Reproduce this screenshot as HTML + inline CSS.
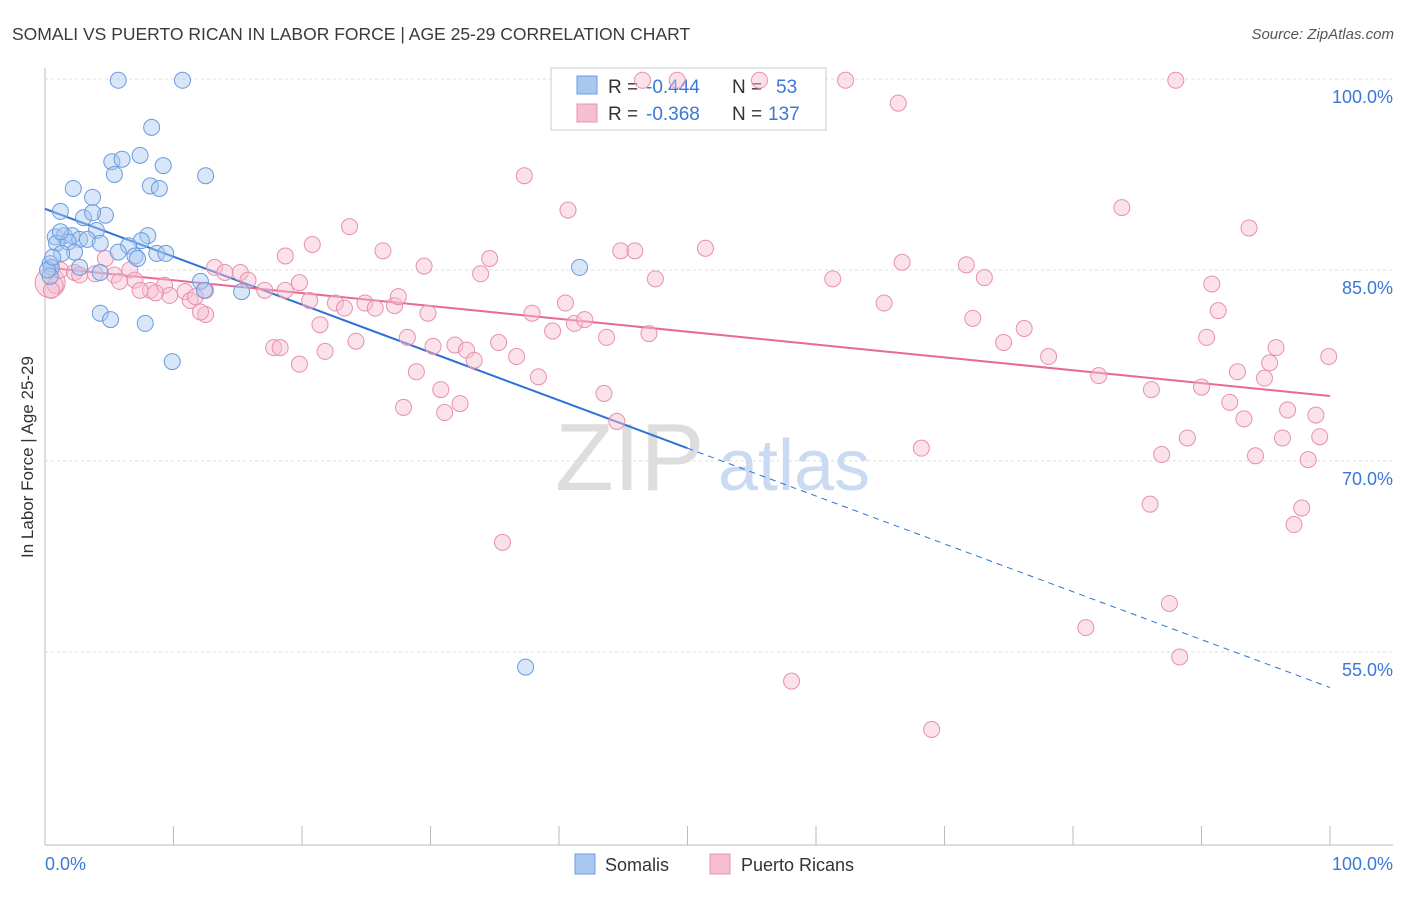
<!DOCTYPE html>
<html><head><meta charset="utf-8"><style>
body{margin:0;background:#fff;font-family:"Liberation Sans",sans-serif;}
svg text{font-family:"Liberation Sans",sans-serif;}
</style></head><body>
<svg id="chart" width="1406" height="892" xmlns="http://www.w3.org/2000/svg">
<text x="12" y="40" font-size="17.5" fill="#3a3a3a">SOMALI VS PUERTO RICAN IN LABOR FORCE | AGE 25-29 CORRELATION CHART</text>
<text x="1394" y="39" font-size="15" fill="#555" text-anchor="end" font-style="italic">Source: ZipAtlas.com</text>
<text x="33" y="457" font-size="17" fill="#333" text-anchor="middle" transform="rotate(-90 33 457)">In Labor Force | Age 25-29</text>
<g id="grid"></g>
<text x="555" y="490" font-size="96" fill="#ddd" font-family="Liberation Serif">ZIP</text>
<text x="718" y="490" font-size="72" fill="#c9daf2">atlas</text>
<g>
<rect x="551" y="68" width="275" height="62" fill="#fff" stroke="#ccc"/>
<rect x="577" y="76" width="20" height="18" fill="#a8c8f0" stroke="#6a9be0"/>
<rect x="577" y="104" width="20" height="18" fill="#f6bfd0" stroke="#e890ac"/>
<text y="93" font-size="19" fill="#333"><tspan x="608">R =</tspan><tspan x="646" fill="#3a78d8">-0.444</tspan><tspan x="732">N =</tspan><tspan x="776" fill="#3a78d8">53</tspan></text>
<text y="120" font-size="19" fill="#333"><tspan x="608">R =</tspan><tspan x="646" fill="#3a78d8">-0.368</tspan><tspan x="732">N =</tspan><tspan x="768" fill="#3a78d8">137</tspan></text>
</g>
<g id="lines"></g>
<g id="pts"></g>
<text x="45" y="870" font-size="18" fill="#3a78d8">0.0%</text>
<text x="1393" y="870" font-size="18" fill="#3a78d8" text-anchor="end">100.0%</text>
<rect x="575" y="854" width="20" height="20" fill="#a8c8f0" stroke="#6a9be0"/>
<text x="605" y="871" font-size="18" fill="#333">Somalis</text>
<rect x="710" y="854" width="20" height="20" fill="#f6bfd0" stroke="#e890ac"/>
<text x="741" y="871" font-size="18" fill="#333">Puerto Ricans</text>
</svg>
<script>
const yTicks=[100,85,70,55];
const yTickLabels=["100.0%","85.0%","70.0%","55.0%"];
const xTicks=[0,10,20,30,40,50,60,70,80,90,100];
const somaliX=[5.7,10.7,8.3,5.2,6.0,7.4,9.2,5.4,12.5,8.2,8.9,2.2,3.7,1.2,3.0,4.7,3.7,4.0,0.8,1.5,2.1,2.7,3.3,4.3,0.9,1.8,8.0,7.5,6.5,5.7,7.0,7.2,8.7,9.4,2.3,1.3,0.4,0.5,2.7,4.3,0.4,12.1,12.4,15.3,4.3,5.1,7.8,9.9,41.6,37.4,0.2,1.2,0.6];
const somaliY=[99.9,99.9,96.2,93.5,93.7,94.0,93.2,92.5,92.4,91.6,91.4,91.4,90.7,89.6,89.1,89.3,89.5,88.1,87.6,87.7,87.7,87.4,87.4,87.1,87.1,87.2,87.7,87.3,86.9,86.4,86.1,85.9,86.3,86.3,86.4,86.3,85.5,85.2,85.2,84.8,84.5,84.1,83.4,83.3,81.6,81.1,80.8,77.8,85.2,53.8,85.0,88.0,86.0];
const prX=[46.5,49.2,55.6,62.3,88.0,66.4,37.3,40.7,83.8,23.7,93.7,20.8,51.4,44.8,45.9,26.3,34.6,29.5,33.9,47.5,61.3,66.7,71.7,73.1,90.8,18.7,4.7,6.6,1.2,2.3,3.9,5.4,7.0,8.2,9.3,10.9,12.5,13.2,14.0,15.2,15.8,17.1,18.7,19.8,9.7,11.3,12.5,12.1,20.6,22.6,23.3,24.9,25.7,27.2,27.5,29.8,21.4,24.2,28.2,30.2,31.9,32.8,35.3,33.4,28.9,36.7,37.9,40.5,39.5,41.2,42.0,43.7,47.0,65.3,72.2,76.2,74.6,78.1,91.3,90.4,95.8,99.9,95.3,92.8,94.9,82.0,86.1,90.0,92.2,96.7,98.9,93.3,88.9,86.9,94.2,96.3,99.2,98.3,68.2,86.0,97.8,97.2,44.5,43.5,38.4,30.8,31.1,32.3,27.9,19.8,21.8,17.8,18.3,35.6,87.5,81.0,88.3,58.1,69.0,0.8,0.5,2.7,5.8,7.4,8.6,11.7];
const prY=[99.9,99.9,99.9,99.9,99.9,98.1,92.4,89.7,89.9,88.4,88.3,87.0,86.7,86.5,86.5,86.5,85.9,85.3,84.7,84.3,84.3,85.6,85.4,84.4,83.9,86.1,85.9,85.0,85.0,84.8,84.7,84.6,84.2,83.4,83.8,83.3,83.4,85.2,84.8,84.8,84.2,83.4,83.4,84.0,83.0,82.6,81.5,81.7,82.6,82.4,82.0,82.4,82.0,82.2,82.9,81.6,80.7,79.4,79.7,79.0,79.1,78.7,79.3,77.9,77.0,78.2,81.6,82.4,80.2,80.8,81.1,79.7,80.0,82.4,81.2,80.4,79.3,78.2,81.8,79.7,78.9,78.2,77.7,77.0,76.5,76.7,75.6,75.8,74.6,74.0,73.6,73.3,71.8,70.5,70.4,71.8,71.9,70.1,71.0,66.6,66.3,65.0,73.1,75.3,76.6,75.6,73.8,74.5,74.2,77.6,78.6,78.9,78.9,63.6,58.8,56.9,54.6,52.7,48.9,83.8,83.4,84.6,84.1,83.4,83.2,82.9];
const somaliTrend=[89.8,52.2];
const prTrend=[85.2,75.1];
const X=v=>45+v*12.85, Y=v=>79+(100-v)*12.73;
const NS="http://www.w3.org/2000/svg";
function mk(tag,attrs,parent){const e=document.createElementNS(NS,tag);for(const k in attrs)e.setAttribute(k,attrs[k]);document.getElementById(parent).appendChild(e);return e;}
let ax=mk('line',{x1:45,y1:68,x2:45,y2:845,stroke:'#bbb'},'grid');


let bx=mk('line',{x1:45,y1:845,x2:1393,y2:845,stroke:'#bbb'},'grid');


yTicks.forEach((t,i)=>{
 let g=mk('line',{x1:45,y1:Y(t),x2:1393,y2:Y(t),stroke:'#ddd','stroke-dasharray':'3,3'},'grid');
 
 
 let tx=mk('text',{x:1393,y:Y(t)+24,'font-size':18,fill:'#3a78d8','text-anchor':'end'},'grid');
 tx.textContent=yTickLabels[i];
 
 
});
xTicks.forEach(t=>{
 let l=mk('line',{x1:X(t),y1:826,x2:X(t),y2:845,stroke:'#bbb'},'grid');
 
 
});
let s1=mk('line',{x1:X(0),y1:Y(somaliTrend[0]),x2:X(50),y2:Y(somaliTrend[0]+(somaliTrend[1]-somaliTrend[0])*0.5),stroke:'#2f72d6','stroke-width':2},'lines');


let s2=mk('line',{x1:X(50),y1:Y(somaliTrend[0]+(somaliTrend[1]-somaliTrend[0])*0.5),x2:X(100),y2:Y(somaliTrend[1]),stroke:'#2f72d6','stroke-width':1,'stroke-dasharray':'6,5'},'lines');


let p1=mk('line',{x1:X(0),y1:Y(prTrend[0]),x2:X(100),y2:Y(prTrend[1]),stroke:'#e8689a','stroke-width':2},'lines');


let big=mk('circle',{cx:X(0.4),cy:Y(84.0),r:15,fill:'#f6bfd0','fill-opacity':0.5,stroke:'#e890ac'},'pts');


prX.forEach((x,i)=>{
 let c=mk('circle',{cx:X(x),cy:Y(prY[i]),r:8,fill:'#f6bfd0','fill-opacity':0.45,stroke:'#e890ac','stroke-width':1},'pts');
 
 
});
somaliX.forEach((x,i)=>{
 let c=mk('circle',{cx:X(x),cy:Y(somaliY[i]),r:8,fill:'#a8c8f0','fill-opacity':0.45,stroke:'#6a9be0','stroke-width':1},'pts');
 
 
});
</script>
</body></html>
